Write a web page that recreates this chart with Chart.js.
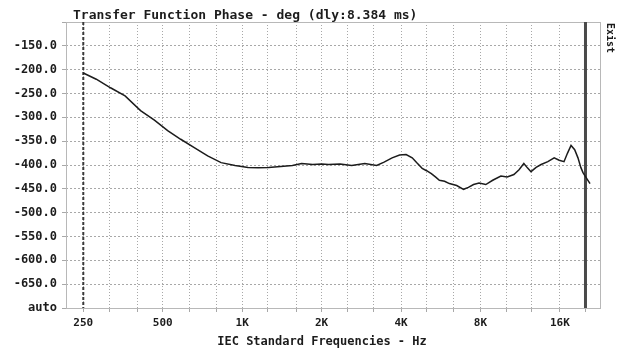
<!DOCTYPE html>
<html>
<head>
<meta charset="utf-8">
<script src="https://cdn.jsdelivr.net/npm/chart.js@4/dist/chart.umd.min.js"></script>
<style>
  html, body { margin: 0; padding: 0; background: #fff; }
</style>
</head>
<body>
<canvas id="chart" width="618" height="351"></canvas>
<script>
/* ── Data ── */
const freqs = [250, 280, 317, 360, 412, 465, 522, 585, 656, 740, 832, 940, 1053, 1150, 1258,
  1400, 1550, 1680, 1850, 2000, 2125, 2350, 2600, 2915, 3233, 3450, 3700, 3950, 4180, 4410,
  4600, 4810, 5000, 5210, 5400, 5590, 5850, 6100, 6500, 6900, 7200, 7530, 7900, 8380, 8900,
  9560, 10100, 10710, 11200, 11680, 12050, 12430, 13000, 13580, 14400, 15220, 15900, 16580,
  17100, 17630, 18200, 18730, 19200, 19570, 20200, 20810];

const phase = [-207, -220, -238, -255, -286, -306, -328, -346, -363, -381, -395, -401, -405, -406, -405,
  -403, -401, -397, -399, -398, -399, -398, -401, -397, -401, -394, -385, -379, -378, -385,
  -396, -407, -412, -418, -425, -432, -434, -439, -443, -451, -447, -441, -438, -441, -432,
  -423, -425, -420, -410, -397, -406, -414, -405, -399, -393, -385, -390, -393,
  -375, -359, -368, -385, -405, -416, -428, -439];

const markerFreqs = [250, 20000];

const gridFreqs = [250, 315, 400, 500, 630, 800, 1000, 1250, 1600, 2000, 2500, 3150,
  4000, 5000, 6300, 8000, 10000, 12500, 16000, 20000];
const xTickFreqs = [250, 500, 1000, 2000, 4000, 8000, 16000];
const xTickTexts = ["250", "500", "1K", "2K", "4K", "8K", "16K"];

const yTickValues = [-100, -150, -200, -250, -300, -350, -400, -450, -500, -550, -600, -650, -700];
const yTickTexts  = ["", "-150.0", "-200.0", "-250.0", "-300.0", "-350.0", "-400.0", "-450.0",
  "-500.0", "-550.0", "-600.0", "-650.0", "auto"];

const TITLE   = "Transfer Function Phase - deg (dly:8.384 ms)";
const X_TITLE = "IEC Standard Frequencies - Hz";
const SIDE    = "Exist";

/* ── Look ── */
const MONO  = '"DejaVu Sans Mono", monospace';
const GRID  = "#a8a8a8";
const INK   = "#1c1c1c";

/* ── Frame, titles and side label ── */
const frame = {
  id: "frame",
  beforeDatasetsDraw(chart) {
    const { ctx, chartArea: a } = chart;
    ctx.save();
    ctx.strokeStyle = "#b8b8b8";
    ctx.lineWidth = 1;
    ctx.strokeRect(a.left + 0.5, a.top + 0.5, a.right - a.left, a.bottom - a.top);
    ctx.restore();
  },
  afterDraw(chart) {
    const { ctx } = chart;
    ctx.save();
    ctx.fillStyle = INK;
    ctx.textBaseline = "alphabetic";

    ctx.font = "bold 13px " + MONO;
    ctx.textAlign = "left";
    ctx.fillText(TITLE, 73, 19);

    ctx.font = "bold 12px " + MONO;
    ctx.textAlign = "center";
    ctx.fillText(X_TITLE, 322, 345);

    ctx.translate(607, 23);
    ctx.rotate(Math.PI / 2);
    ctx.font = "bold 10px " + MONO;
    ctx.textAlign = "left";
    ctx.fillText(SIDE, 0, 0);
    ctx.restore();
  },
};

const yMin = yTickValues[yTickValues.length - 1];
const yMax = yTickValues[0];

new Chart(document.getElementById("chart"), {
  type: "line",
  data: {
    datasets: [
      {
        data: freqs.map((f, i) => ({ x: f, y: phase[i] })),
        borderColor: INK,
        borderWidth: 1.5,
        pointRadius: 0,
        tension: 0,
      },
      {
        data: [{ x: markerFreqs[0], y: yMax }, { x: markerFreqs[0], y: yMin }],
        borderColor: "#3a3a3a",
        borderWidth: 2,
        borderDash: [3, 2],
        pointRadius: 0,
      },
      {
        data: [{ x: markerFreqs[1], y: yMax }, { x: markerFreqs[1], y: yMin }],
        borderColor: "#4a4a4a",
        borderWidth: 3,
        pointRadius: 0,
      },
    ],
  },
  options: {
    responsive: false,
    animation: false,
    layout: { padding: { left: 0, right: 18, top: 22, bottom: 0 } },
    plugins: { legend: { display: false }, tooltip: { enabled: false } },
    scales: {
      x: {
        type: "logarithmic",
        min: 215,
        max: 22700,
        afterBuildTicks: s => { s.ticks = gridFreqs.map(v => ({ value: v })); },
        afterFit: s => { s.height = 43; },
        ticks: {
          autoSkip: false,
          maxRotation: 0,
          padding: 5,
          color: INK,
          font: { family: MONO, size: 11, weight: "bold" },
          callback: v => {
            const i = xTickFreqs.indexOf(v);
            return i >= 0 ? xTickTexts[i] : "";
          },
        },
        grid: { color: GRID, lineWidth: 1, tickLength: 4, tickColor: GRID },
        border: { display: false, dash: [1, 2] },
      },
      y: {
        min: yMin,
        max: yMax,
        afterBuildTicks: s => { s.ticks = yTickValues.map(v => ({ value: v })); },
        afterFit: s => { s.width = 66; },
        ticks: {
          padding: 5,
          color: INK,
          font: { family: MONO, size: 12, weight: "bold" },
          callback: v => {
            const i = yTickValues.indexOf(v);
            return i >= 0 ? yTickTexts[i] : "";
          },
        },
        grid: { color: GRID, lineWidth: 1, tickLength: 4, tickColor: GRID },
        border: { display: false, dash: [2, 2] },
      },
    },
  },
  plugins: [frame],
});
</script>
</body>
</html>
